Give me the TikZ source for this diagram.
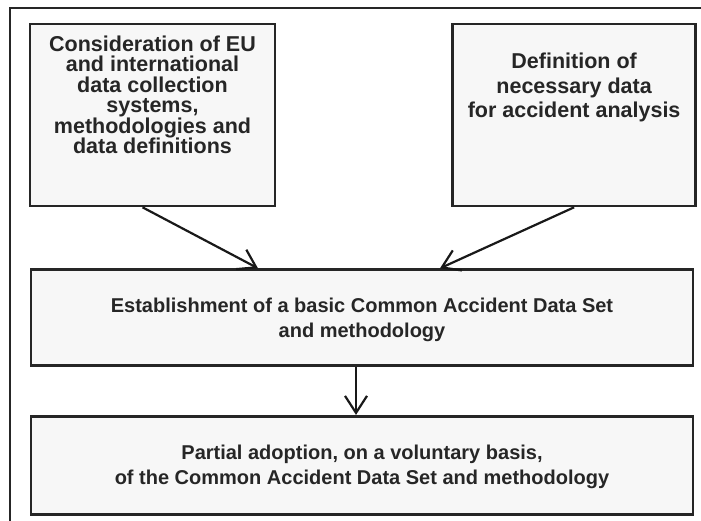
\documentclass[tikz,border=0pt]{standalone}
\usepackage{fontspec}
\setmainfont{Liberation Sans}
\usetikzlibrary{positioning,arrows.meta}

\tikzset{
  stage/.style={draw=black!85, line width=2.6bp, fill=black!3, text=black!85,
    align=center, inner sep=0pt, text depth=-4bp,
    font=\bfseries\fontsize{20bp}{25bp}\selectfont},
  topstage/.style={stage, minimum height=182bp,
    font=\bfseries\fontsize{21.5bp}{#1}\selectfont},
  flow/.style={draw=black!90, line width=2.2bp,
    -{Straight Barb[length=17bp,width=22bp]}},
}

\begin{document}
\begin{tikzpicture}[x=1bp, y=1bp]
    \useasboundingbox (0,0) rectangle (701,-521);
    \draw[line width=1.5bp, black!85] (10,-521) |- (701,-8);
    % two starting points
    \node[topstage=20.5bp, minimum width=245bp, text depth=41bp] (cons) at (152.5,-115)
        {Consideration of EU\\and international\\data collection\\systems,\\methodologies and\\data definitions};
    \node[topstage=24.5bp, minimum width=243bp, text depth=59.5bp, right=175bp of cons] (need)
        {Definition of\\necessary data\\for accident analysis};
    % common set and its adoption
    \node[stage, minimum width=662bp, minimum height=96bp, below=61bp of cons.south west, anchor=north west, xshift=1bp] (base)
        {Establishment of a basic Common Accident Data Set\\and methodology};
    \node[stage, minimum width=662bp, minimum height=98bp, below=48bp of base] (adopt)
        {Partial adoption, on a voluntary basis,\\of the Common Accident Data Set and methodology};
    \draw[flow] ([xshift=-10bp]cons.south) -- ([xshift=-104bp]base.north);
    \draw[flow] (need.south) -- ([xshift=78bp]base.north);
    \draw[flow] ([xshift=-6bp]base.south) -- ([xshift=-6bp]adopt.north);
\end{tikzpicture}
\end{document}
